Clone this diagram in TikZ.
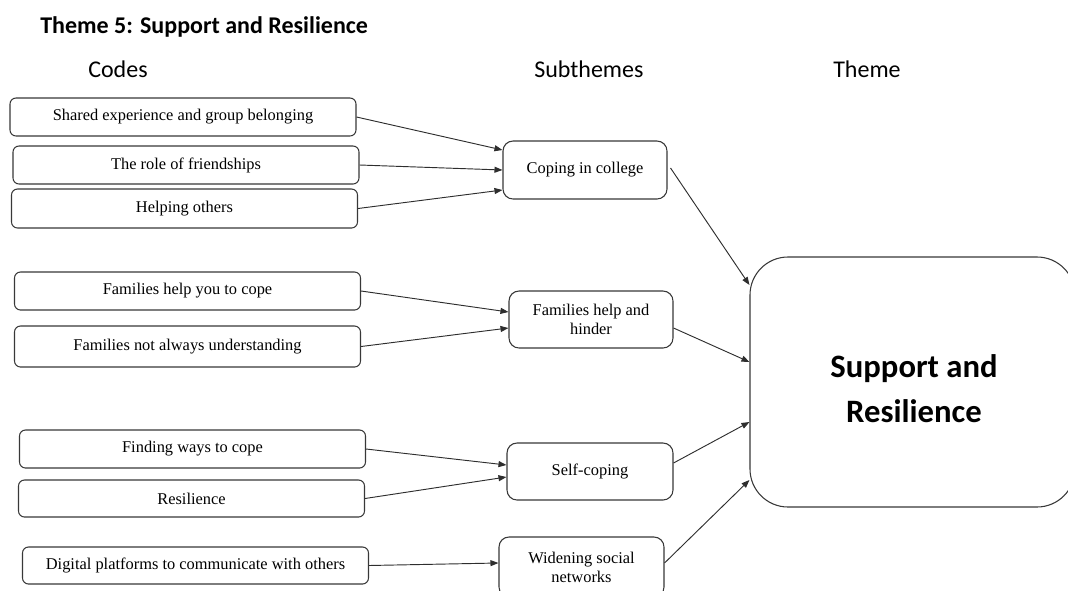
\documentclass[tikz,border=0pt]{standalone}
\usepackage{fontspec}
\setmainfont{Liberation Serif}
\newfontfamily\headfont{Carlito}
\usetikzlibrary{arrows.meta,calc}

\begin{document}
\begin{tikzpicture}[x=0.75pt,y=-0.75pt,
  boxline/.style={draw=black!78, line width=0.8pt},
  codebox/.style={boxline, rounded corners=4.5pt, minimum width=259.5pt,
    minimum height=28.5pt, inner sep=0pt, font=\fontsize{12.3}{14.2}\selectfont},
  subbox/.style={boxline, rounded corners=7.5pt, minimum width=123pt,
    minimum height=43pt, inner sep=0pt, align=center,
    font=\fontsize{12.3}{14.2}\selectfont},
  themebox/.style={boxline, rounded corners=28.5pt, inner sep=0pt},
  link/.style={draw=black!82, line width=0.7pt,
    -{Triangle[length=6pt,width=4.5pt]}},
  heading/.style={anchor=base west, inner sep=0pt,
    font=\headfont\fontsize{18}{20}\selectfont}
]
\useasboundingbox (0,0) rectangle (1068,590);
\clip (0,0) rectangle (1068,590);

% headings
\node[heading, font=\headfont\bfseries\fontsize{18}{20}\selectfont] (title) at (40,33) {Theme 5: Support and Resilience};
\node[heading] (hcodes) at (88,77) {Codes};
\node[heading] (hsub) at (534,77) {Subthemes};
\node[heading] (htheme) at (833,77) {Theme};

% codes
\node[codebox] (c1) at (183,117) {Shared experience and group belonging};
\node[codebox] (c2) at (186,165) {The role of friendships};
\node[codebox, minimum height=29.25pt] (c3) at (184.5,208.5) {Helping others};
\node[codebox] (c4) at (187.5,291) {Families help you to cope};
\node[codebox, minimum height=30.75pt] (c5) at (187.5,346.5) {Families not always understanding};
\node[codebox] (c6) at (192.5,449) {Finding ways to cope};
\node[codebox, minimum height=27.75pt] (c7) at (191.5,498.5) {Resilience};
\node[codebox, minimum height=27.75pt] (c8) at (195.5,565.5) {Digital platforms to communicate with others};

% subthemes
\node[subbox, minimum height=43.5pt] (cope) at (585,170) {\raisebox{3pt}{Coping in college}};
\node[subbox, minimum height=42.75pt] (fam) at (591,319.5) {Families help and\\hinder};
\node[subbox, minimum width=124.5pt, minimum height=42.75pt] (self) at (590,471.5) {\raisebox{3pt}{Self-coping}};
\node[subbox, minimum width=123.75pt, minimum height=45pt] (wide) at (581.5,567) {Widening social\\networks};

% theme
\node[themebox, minimum width=243.75pt, minimum height=187.5pt] (big) at (912.5,382) {};
\node[align=center, inner sep=0pt, font=\headfont\bfseries\fontsize{24.5}{33.75}\selectfont] (bigtext) at (914,389) {Support and\\Resilience};

% codes to subthemes
\draw[link] (c1.east) -- ($(cope.west)+(0,-20)$);
\draw[link] (c2.east) -- (cope.west);
\draw[link] (c3.east) -- ($(cope.west)+(0,20)$);
\draw[link] (c4.east) -- ($(fam.west)+(0,-7.5)$);
\draw[link] (c5.east) -- ($(fam.west)+(0,8.5)$);
\draw[link] (c6.east) -- ($(self.west)+(0,-6.5)$);
\draw[link] (c7.east) -- ($(self.west)+(0,5.5)$);
\draw[link] (c8.east) -- ($(wide.west)+(0,-4)$);

% subthemes to theme
\draw[link] ($(cope.east)+(3,-2)$) -- ($(big.west)+(0,-97)$);
\draw[link] ($(fam.east)+(0,8.5)$) -- ($(big.west)+(0,-20)$);
\draw[link] ($(self.east)+(0,-8.5)$) -- ($(big.west)+(0,40)$);
\draw[link] ($(wide.east)+(0,-4)$) -- ($(big.west)+(0,98)$);
\end{tikzpicture}
\end{document}
